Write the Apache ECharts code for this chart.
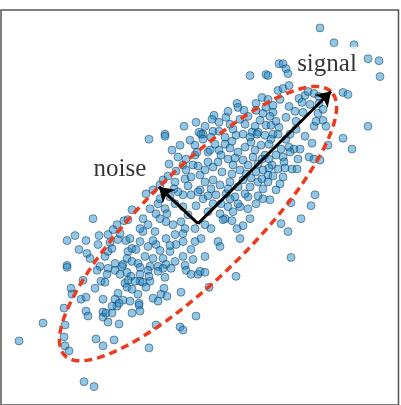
<!DOCTYPE html>
<html>
<head>
<meta charset="utf-8">
<script src="https://cdn.jsdelivr.net/npm/echarts@6/dist/echarts.min.js"></script>
<style>
    html, body { margin: 0; padding: 0; background: #fff; }
    #chart { width: 401px; height: 405px; }
</style>
</head>
<body>
<div id="chart"></div>
<script>
    // sample cloud (plot units: x to the right, y downward)
    var samples = [
        [250,76],[266,75],[237,104],[238,108],[262,98],[256,104],[256,111],[263,114],[214,116],[212,120],
        [219,123],[184,127],[196,123],[240,120],[245,125],[213,132],[219,132],[199,133],[165,135],[233,130],
        [255,127],[203,135],[266,126],[252,133],[258,133],
        [320,28],[334,43],[354,45],[279,64],[283,64],[286,69],[288,74],[268,76],[368,59],[379,61],
        [380,77],[278,91],[283,89],[289,86],[299,99],[305,96],[308,92],[314,94],[319,97],[343,93],
        [348,95],[273,106],[268,100],[289,107],[310,105],[319,104],[266,108],[273,113],[270,117],[286,118],
        [303,113],[318,114],[323,121],[271,126],[279,128],[314,127],[316,122],[326,127],[368,127],[296,130],
        [295,112],[302,103],[323,110],
        [93,220],[67,242],[75,237],[86,242],[79,251],[87,255],[99,237],[98,246],[108,236],[113,231],
        [117,226],[124,222],[128,221],[132,211],[118,241],[126,242],[128,253],[132,250],[105,258],[108,253],
        [67,267],[115,265],[123,266],[120,235],[112,250],[127,260],[132,263],
        [149,140],[165,137],[201,135],[211,138],[203,140],[236,136],[225,138],[243,135],[250,138],[257,135],
        [265,136],[225,145],[230,149],[219,151],[245,148],[251,143],[261,146],[238,153],
        [178,158],[186,160],[195,156],[193,166],[183,166],[169,165],[208,163],[213,168],[218,163],[221,156],
        [228,160],[235,159],[233,166],[243,161],[248,166],[253,158],[258,165],[265,156],[240,171],[246,175],
        [256,173],[263,171],
        [163,181],[160,186],[153,191],[146,195],[175,183],[185,180],[191,178],[200,176],[205,183],[213,181],
        [220,186],[211,190],[200,191],[191,196],[183,196],[230,183],[238,188],[243,181],[250,188],[258,183],
        [263,190],[226,195],[235,198],[248,198],
        [158,205],[165,210],[156,215],[175,205],[183,208],[188,216],[203,200],[213,205],[221,205],[228,208],
        [208,213],[225,220],[233,213],[240,208],[248,210],[256,205],[263,200],[220,215],
        [143,220],[148,226],[143,233],[155,233],[166,223],[173,226],[181,223],[185,230],[211,230],[223,221],
        [240,240],[218,243],[220,248],[201,240],[195,243],[191,251],[166,240],[176,246],[170,253],[183,243],
        [148,248],[156,246],[140,243],[136,251],[145,258],[153,260],[163,260],[175,263],[183,258],[193,261],
        [205,258],[138,265],[166,266],
        [197,153],[208,153],[178,193],[198,193],[208,197],[238,205],[243,227],[237,230],[160,220],[167,215],
        [183,235],[153,242],[170,247],[185,267],
        [226,118],[230,125],[248,117],[205,127],[190,141],[180,146],[172,151],[195,146],[215,145],[210,151],
        [232,142],[255,151],[262,160],[251,179],[232,175],[222,173],[205,171],[198,167],[176,172],[168,177],
        [186,171],[258,197],[230,200],[196,207],[216,196],[250,220],[232,222],[170,198],[150,210],[160,200],
        [195,230],[175,236],[160,252],[150,268],[130,240],[140,230],[205,226],[245,195],[272,166],[262,180],
        [278,170],[286,140],[300,150],[298,160],[276,122],[260,121],[244,111],[228,112],[296,122],[280,100],
        [188,187],[174,190],[228,190],[140,276],[125,285],[118,295],[95,290],[90,260],[100,268],[110,244],
        [273,135],[278,135],[305,137],[312,144],[328,146],[343,139],[352,150],[271,140],[269,145],[289,148],
        [294,150],[290,153],[281,150],[276,156],[283,158],[309,158],[314,160],[320,161],[269,160],[284,163],
        [285,169],[269,169],[292,170],[297,170],[268,176],[273,177],[283,178],[268,183],[280,185],[276,191],
        [270,201],[315,196],[291,204],[311,207],[301,220],[281,225],[288,233],[291,259],[290,135],
        [67,269],[97,272],[108,270],[115,272],[107,276],[120,276],[127,274],[131,278],[122,268],[83,282],
        [101,283],[105,284],[71,290],[72,296],[81,301],[86,299],[127,289],[132,291],[103,301],[115,301],
        [123,302],[117,308],[119,305],[64,310],[86,313],[88,318],[103,314],[103,319],[106,315],[112,315],
        [108,324],[119,326],[132,315],[43,325],[65,327],[19,343],[64,339],[65,348],[69,353],[96,341],
        [103,348],[114,342],[84,384],[94,389],[130,303],[112,308],
        [140,269],[148,272],[158,268],[163,270],[171,270],[140,283],[143,284],[150,283],[149,278],[135,283],
        [158,273],[165,279],[146,289],[138,296],[153,300],[158,303],[161,296],[164,290],[167,298],[139,305],
        [139,307],[186,272],[191,276],[198,276],[200,273],[205,274],[181,294],[209,289],[236,278],[196,318],
        [156,327],[180,329],[183,332],[149,350],[128,282],[140,313]
    ];

    // principal directions, both start at the mean
    var mean = [198, 225];
    var signalEnd = [331, 92];
    var noiseEnd = [159, 188];

    var labels = [
        ['signal', 327, 65],
        ['noise', 120, 170]
    ];

    // dashed outline: ellipse spanned by the two arrows
    function ellipsePath(n) {
        var ux = signalEnd[0] - mean[0], uy = signalEnd[1] - mean[1];
        var vx = noiseEnd[0] - mean[0], vy = noiseEnd[1] - mean[1];
        var pts = [];
        for (var i = 0; i <= n; i++) {
            var t = 2 * Math.PI * i / n;
            pts.push([mean[0] + ux * Math.cos(t) + vx * Math.sin(t),
                      mean[1] + uy * Math.cos(t) + vy * Math.sin(t)]);
        }
        return pts;
    }

    var myChart = echarts.init(document.getElementById('chart'));
    var option = {
        animation: false,
        grid: {
            left: 1, top: 10, width: 397.5, height: 397.5,
            show: true, borderColor: '#555', borderWidth: 1.5, backgroundColor: '#fff'
        },
        xAxis: { type: 'value', min: 0, max: 397.5, show: false },
        yAxis: { type: 'value', min: 10, max: 407.5, inverse: true, show: false },
        series: [
            {
                type: 'scatter',
                z: 2,
                symbolSize: 8,
                itemStyle: {
                    color: 'rgba(25,138,202,0.6)',
                    borderColor: 'rgba(15,45,75,0.78)',
                    borderWidth: 0.8
                },
                data: samples.map(function (p) { return [p[0] - 1, p[1]]; })
            },
            {
                type: 'line',
                z: 3,
                showSymbol: false,
                symbol: 'none',
                silent: true,
                lineStyle: { color: '#ee3a1c', width: 3.5, type: [8, 5] },
                data: ellipsePath(160).map(function (p) { return [p[0] - 1, p[1]]; })
            },
            {
                type: 'lines',
                coordinateSystem: 'cartesian2d',
                z: 4,
                symbol: ['none', 'arrow'],
                symbolSize: 14,
                lineStyle: { color: '#000', width: 3, opacity: 1 },
                data: [
                    { coords: [[mean[0] - 1, mean[1]], [signalEnd[0] - 1, signalEnd[1]]] },
                    { coords: [[mean[0] - 1, mean[1]], [noiseEnd[0] - 1, noiseEnd[1]]] }
                ]
            },
            {
                type: 'scatter',
                z: 5,
                symbolSize: 1,
                itemStyle: { color: 'rgba(0,0,0,0)' },
                label: {
                    show: true,
                    position: 'inside',
                    formatter: function (p) { return p.value[2]; },
                    fontFamily: 'Liberation Serif',
                    fontSize: 25,
                    color: '#000',
                    textBorderWidth: 0,
                    backgroundColor: '#fff',
                    padding: [8, 4, 3, 4]
                },
                data: labels.map(function (l) { return [l[1] - 1, l[2], l[0]]; })
            }
        ]
    };
    option && myChart.setOption(option);
</script>
</body>
</html>
